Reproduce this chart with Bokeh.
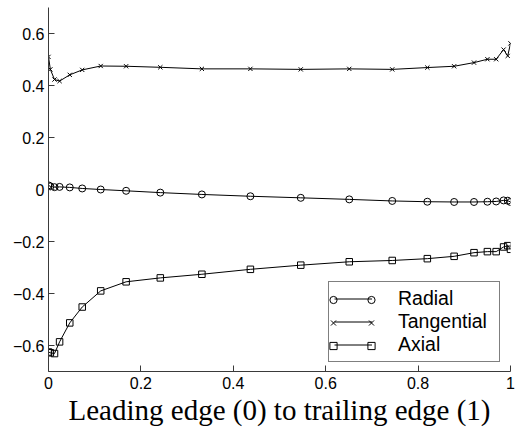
from bokeh.plotting import figure
from bokeh.models import Range1d, FixedTicker, CustomJSTickFormatter, Legend, LegendItem
from bokeh.embed import file_html
from bokeh.resources import INLINE

# ---- data ----
position = [0.0, 0.004, 0.013, 0.024, 0.046, 0.073, 0.113, 0.168, 0.242, 0.332, 0.437,
            0.546, 0.651, 0.744, 0.820, 0.878, 0.921, 0.950, 0.969, 0.985, 0.994, 1.0]
radial = [0.016, 0.012, 0.009, 0.010, 0.008, 0.004, 0.000, -0.005, -0.012, -0.019, -0.026,
          -0.032, -0.038, -0.044, -0.047, -0.048, -0.048, -0.047, -0.046, -0.042, -0.043, -0.048]
tangential = [0.510, 0.462, 0.423, 0.417, 0.441, 0.460, 0.475, 0.474, 0.470, 0.464, 0.464,
              0.462, 0.464, 0.462, 0.469, 0.474, 0.488, 0.501, 0.501, 0.538, 0.514, 0.562]
axial = [-0.625, -0.628, -0.631, -0.586, -0.513, -0.452, -0.390, -0.355, -0.340, -0.326, -0.307,
         -0.291, -0.278, -0.273, -0.266, -0.257, -0.243, -0.239, -0.239, -0.221, -0.216, -0.230]
series_names = ["Radial", "Tangential", "Axial"]
series_markers = ["circle", "x", "square"]
x_ticks = [0, 0.2, 0.4, 0.6, 0.8, 1.0]
y_ticks = [-0.6, -0.4, -0.2, 0, 0.2, 0.4, 0.6]
x_title = "Leading edge (0) to trailing edge (1)"

p = figure(width=516, height=433, x_range=Range1d(0, 1), y_range=Range1d(-0.7, 0.7),
           output_backend="svg", toolbar_location=None,
           min_border_left=48, min_border_right=6, min_border_top=7, min_border_bottom=62)
p.grid.visible = False
p.outline_line_color = None
p.background_fill_color = "white"
p.border_fill_color = "white"

fmt_code = """
const t = Math.round(tick * 10) / 10;
if (t === 0) return "0";
if (Number.isInteger(t)) return t.toFixed(0);
return t.toFixed(1).replace("-", "\\u2212");
"""

for ax in (p.xaxis[0], p.yaxis[0]):
    ax.formatter = CustomJSTickFormatter(code=fmt_code)
    ax.major_tick_in = 6
    ax.major_tick_out = 0
    ax.minor_tick_line_color = None
    ax.axis_line_color = "#3a3a3a"
    ax.major_tick_line_color = "#3a3a3a"
    ax.major_label_text_font = "Liberation Sans"
    ax.major_label_text_font_size = "16px"
    ax.major_label_text_color = "black"

p.xaxis[0].ticker = FixedTicker(ticks=x_ticks)
p.yaxis[0].ticker = FixedTicker(ticks=y_ticks)
p.xaxis[0].major_label_standoff = 5
p.yaxis[0].major_label_standoff = 4
p.xaxis[0].axis_label = x_title
p.xaxis[0].axis_label_text_font = "Liberation Serif"
p.xaxis[0].axis_label_text_font_size = "29px"
p.xaxis[0].axis_label_text_font_style = "normal"
p.xaxis[0].axis_label_text_color = "black"
p.xaxis[0].axis_label_standoff = 2

line_rs = []
mark_rs = []
for vals, mk in zip([radial, tangential, axial], series_markers):
    lr = p.line(position, vals, line_color="black", line_width=1)
    sz = 7 if mk == "circle" else (6.5 if mk == "square" else 6)
    sr = p.scatter(position, vals, marker=mk, size=sz, line_color="black",
                   fill_color=None, line_width=1)
    line_rs.append(lr)
    mark_rs.append(sr)

common = dict(padding=5, spacing=0, margin=0, label_text_font="Liberation Sans",
              label_text_font_size="19.5px", label_height=23, glyph_height=23)

leg_main = Legend(items=[LegendItem(label=n, renderers=[r]) for n, r in zip(series_names, line_rs)],
                  location=(280, 9), glyph_width=38, label_standoff=26, label_width=96,
                  border_line_color="black", border_line_width=1,
                  background_fill_color="white", background_fill_alpha=1,
                  label_text_color="black", **common)
leg_left = Legend(items=[LegendItem(label=" ", renderers=[r]) for r in mark_rs],
                  location=(271, 9), glyph_width=18, label_standoff=0, label_width=0,
                  border_line_alpha=0, background_fill_alpha=0, **common)
leg_right = Legend(items=[LegendItem(label=" ", renderers=[r]) for r in mark_rs],
                   location=(309, 9), glyph_width=18, label_standoff=0, label_width=0,
                   border_line_alpha=0, background_fill_alpha=0, **common)
p.add_layout(leg_main, "center")
p.add_layout(leg_left, "center")
p.add_layout(leg_right, "center")

open("out.html", "w").write(file_html(p, INLINE))
